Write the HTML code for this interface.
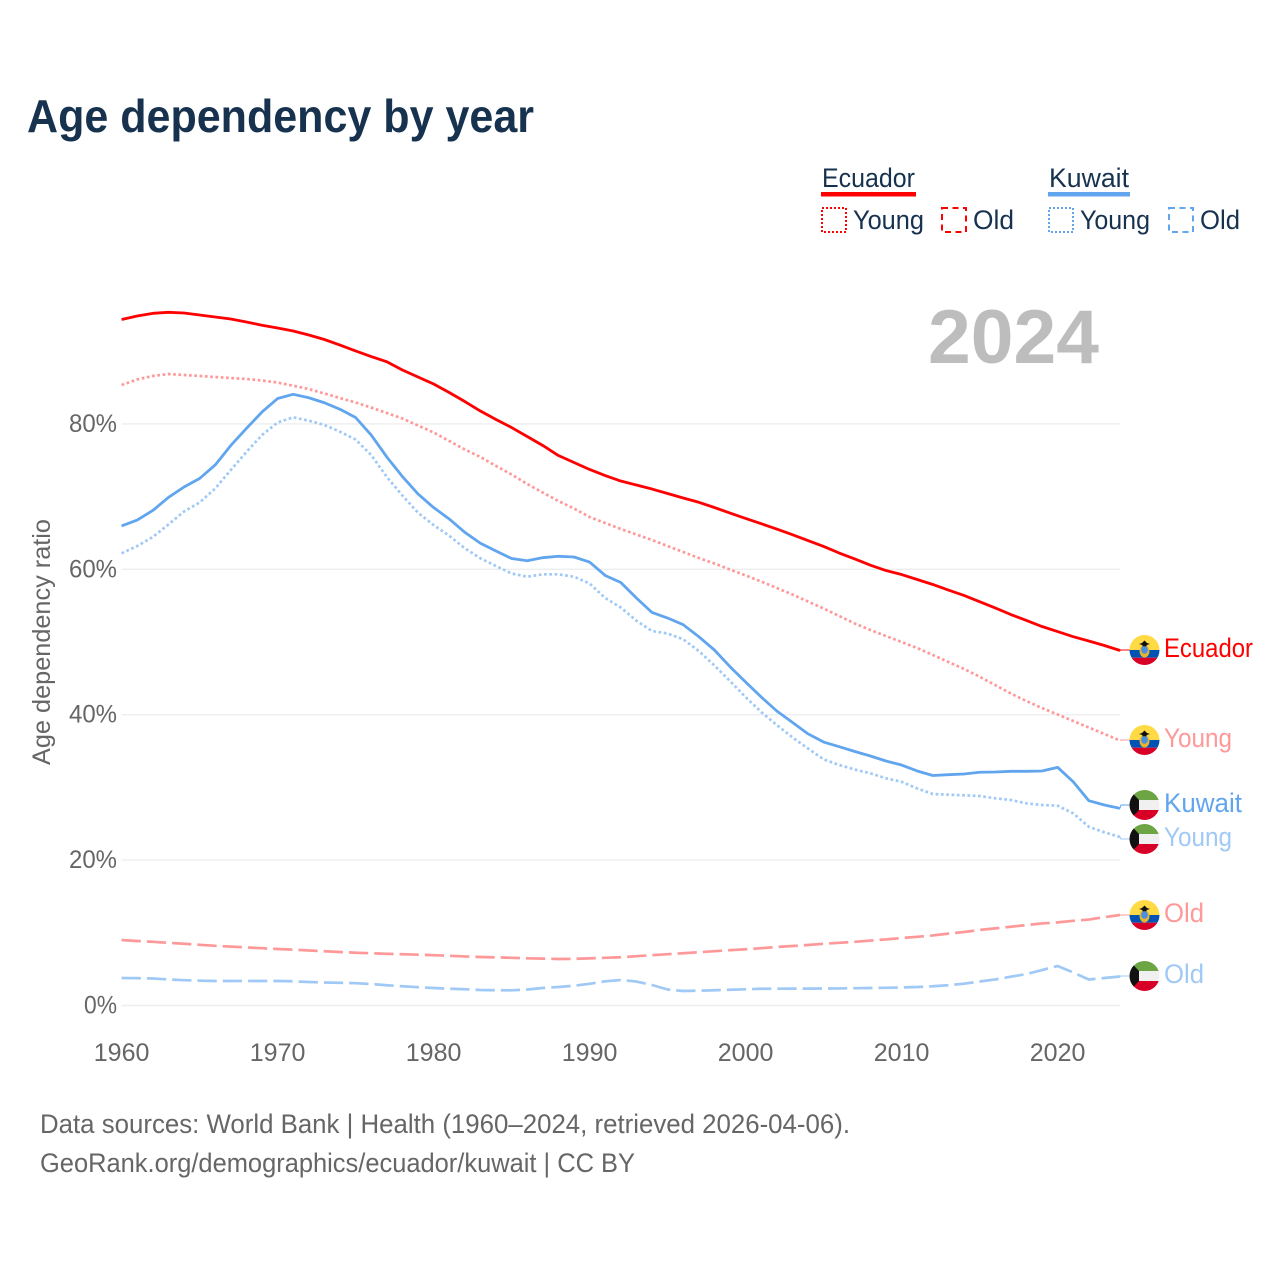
<!DOCTYPE html>
<html lang="en">
<head>
<meta charset="utf-8">
<title>Age dependency by year</title>
<style>
html,body{margin:0;padding:0;background:#fff;width:1280px;height:1280px;overflow:hidden}
svg{display:block}
text{font-family:"Liberation Sans",sans-serif}
</style>
</head>
<body>
<svg id="chart" xmlns="http://www.w3.org/2000/svg" width="1280" height="1280" viewBox="0 0 1280 1280">
  <defs>
    <clipPath id="flag-clip"><circle cx="0" cy="0" r="15"/></clipPath>
    <g id="flag-ecuador">
      <g clip-path="url(#flag-clip)">
        <rect x="-15" y="-15" width="30" height="15" fill="#ffda44"/>
        <rect x="-15" y="0" width="30" height="7.7" fill="#0052b4"/>
        <rect x="-15" y="7.7" width="30" height="7.3" fill="#d80027"/>
      </g>
      <ellipse cx="0" cy="1.2" rx="5" ry="6.3" fill="#e5b52e"/>
      <ellipse cx="0" cy="-0.2" rx="3.3" ry="4" fill="#4a8fe0"/>
      <path d="M-5.5-6 L-2.5-7 L0-9.5 L2.5-7 L5.5-6 L2.2-5 L2-3.8 L-2-3.8 L-2.2-5Z" fill="#111"/>
    </g>
    <g id="flag-kuwait">
      <g clip-path="url(#flag-clip)">
        <rect x="-15" y="-15" width="30" height="10" fill="#6da544"/>
        <rect x="-15" y="-5" width="30" height="10" fill="#f0f0f0"/>
        <rect x="-15" y="5" width="30" height="10" fill="#d80027"/>
        <path d="M-15-15 L-5.5-5 L-5.5 5 L-15 15Z" fill="#111"/>
      </g>
    </g>
  </defs>

  <text x="27" y="132" font-size="46" font-weight="700" fill="#17324f" textLength="507" lengthAdjust="spacingAndGlyphs">Age dependency by year</text>

  <g font-size="27" fill="#17324f">
    <text x="822" y="187" textLength="93" lengthAdjust="spacingAndGlyphs">Ecuador</text>
    <rect x="821" y="192" width="95" height="4.5" fill="#ff0000"/>
    <text x="1049" y="187" textLength="80" lengthAdjust="spacingAndGlyphs">Kuwait</text>
    <rect x="1048" y="192" width="82" height="4.5" fill="#60a5ee"/>

    <rect x="822" y="208" width="24" height="24" fill="none" stroke="#ff0000" stroke-width="2" stroke-dasharray="2 2"/>
    <text x="853" y="229" textLength="71" lengthAdjust="spacingAndGlyphs">Young</text>
    <rect x="942" y="208" width="24" height="24" fill="none" stroke="#ff0000" stroke-width="2" stroke-dasharray="6 4.5"/>
    <text x="973" y="229" textLength="41" lengthAdjust="spacingAndGlyphs">Old</text>

    <rect x="1049" y="208" width="24" height="24" fill="none" stroke="#60a5ee" stroke-width="2" stroke-dasharray="2 2"/>
    <text x="1080" y="229" textLength="70" lengthAdjust="spacingAndGlyphs">Young</text>
    <rect x="1169" y="208" width="24" height="24" fill="none" stroke="#60a5ee" stroke-width="2" stroke-dasharray="6 4.5"/>
    <text x="1200" y="229" textLength="40" lengthAdjust="spacingAndGlyphs">Old</text>
  </g>

  <text x="928" y="363" font-size="76" font-weight="700" fill="#bdbdbd" textLength="171" lengthAdjust="spacingAndGlyphs">2024</text>

  <text transform="translate(50 642) rotate(-90)" text-anchor="middle" font-size="25" fill="#666666" textLength="246" lengthAdjust="spacingAndGlyphs">Age dependency ratio</text>

  <g id="grid"></g>
  <g id="y-ticks"></g>
  <g id="x-ticks"></g>
  <g id="series"></g>
  <g id="end-labels"></g>

  <g font-size="27" fill="#666666">
    <text x="40" y="1133" textLength="810" lengthAdjust="spacingAndGlyphs">Data sources: World Bank | Health (1960–2024, retrieved 2026-04-06).</text>
    <text x="40" y="1172" textLength="595" lengthAdjust="spacingAndGlyphs">GeoRank.org/demographics/ecuador/kuwait | CC BY</text>
  </g>
</svg>

<script>
const firstYear = 1960;
const lastYear = 2024;
const xTicks = [1960, 1970, 1980, 1990, 2000, 2010, 2020];
const yTicks = [0, 20, 40, 60, 80];

const ecuadorTotal = [94.36,94.84,95.21,95.35,95.25,94.98,94.70,94.43,94.01,93.57,93.19,92.78,92.23,91.61,90.85,90.03,89.27,88.55,87.41,86.45,85.49,84.32,83.08,81.77,80.60,79.50,78.27,77.03,75.65,74.69,73.73,72.90,72.14,71.59,71.04,70.43,69.81,69.22,68.50,67.74,66.99,66.27,65.54,64.76,63.96,63.14,62.24,61.42,60.56,59.83,59.28,58.60,57.91,57.15,56.40,55.54,54.68,53.78,52.96,52.13,51.44,50.73,50.14,49.52,48.83];
const ecuadorYoung = [85.35,86.11,86.59,86.86,86.73,86.59,86.45,86.31,86.18,85.97,85.69,85.25,84.80,84.18,83.56,82.94,82.25,81.50,80.74,79.78,78.82,77.65,76.48,75.45,74.21,73.04,71.73,70.56,69.39,68.36,67.19,66.37,65.54,64.79,64.03,63.20,62.38,61.55,60.80,59.97,59.15,58.32,57.43,56.53,55.57,54.61,53.58,52.54,51.65,50.82,50.00,49.17,48.21,47.25,46.29,45.23,44.08,42.92,41.88,40.92,40.03,39.13,38.24,37.35,36.45];
const ecuadorOld = [9.01,8.87,8.76,8.62,8.49,8.35,8.21,8.10,7.99,7.88,7.77,7.68,7.57,7.46,7.36,7.26,7.18,7.11,7.06,6.99,6.92,6.84,6.75,6.67,6.62,6.56,6.49,6.45,6.40,6.42,6.48,6.56,6.64,6.78,6.92,7.06,7.19,7.33,7.47,7.61,7.74,7.88,8.05,8.18,8.32,8.49,8.62,8.76,8.93,9.09,9.28,9.45,9.64,9.89,10.11,10.39,10.61,10.83,11.07,11.29,11.43,11.65,11.82,12.15,12.45];
const kuwaitTotal = [65.96,66.78,68.09,69.88,71.32,72.49,74.35,77.03,79.37,81.64,83.49,84.07,83.60,82.91,82.01,80.88,78.47,75.45,72.76,70.36,68.50,66.92,65.09,63.58,62.52,61.48,61.18,61.60,61.79,61.69,61.00,59.15,58.18,56.05,54.06,53.30,52.38,50.73,48.90,46.60,44.50,42.43,40.51,38.95,37.37,36.24,35.60,34.94,34.32,33.63,33.08,32.26,31.64,31.75,31.84,32.08,32.12,32.21,32.21,32.26,32.76,30.78,28.17,27.58,27.12];
const kuwaitYoung = [62.20,63.20,64.44,66.16,67.95,69.19,71.11,73.66,76.13,78.47,80.19,80.91,80.44,79.85,78.93,77.85,75.72,72.70,70.15,67.78,66.09,64.62,62.89,61.51,60.45,59.42,58.98,59.31,59.31,58.98,58.05,56.05,54.74,52.93,51.51,51.17,50.37,48.76,46.77,44.63,42.43,40.37,38.58,36.89,35.35,33.86,33.08,32.46,31.94,31.25,30.77,29.85,29.09,29.00,28.91,28.82,28.50,28.27,27.81,27.58,27.48,26.44,24.59,23.82,23.18];
const kuwaitOld = [3.78,3.76,3.71,3.58,3.48,3.41,3.37,3.37,3.38,3.37,3.37,3.33,3.23,3.16,3.12,3.07,2.96,2.79,2.65,2.52,2.41,2.31,2.24,2.13,2.10,2.09,2.20,2.41,2.54,2.72,2.98,3.33,3.51,3.30,2.82,2.20,1.99,2.04,2.10,2.17,2.23,2.30,2.31,2.32,2.32,2.34,2.35,2.38,2.41,2.43,2.48,2.54,2.65,2.79,3.00,3.30,3.58,3.96,4.33,4.88,5.43,4.54,3.58,3.78,3.99];

const SVGNS = 'http://www.w3.org/2000/svg';
const RED = '#ff0000';
const BLUE = '#60a5ee';
const LIGHT_RED = '#ff9999';
const LIGHT_BLUE = '#a0c9f6';

function xScale(year) { return 121.6 + (year - firstYear) * (1120 - 121.6) / (lastYear - firstYear); }
function yScale(value) { return 1005.5 - value * 7.27; }

function make(tag, attrs, parent) {
  const el = document.createElementNS(SVGNS, tag);
  Object.keys(attrs).forEach(function (k) { el.setAttribute(k, attrs[k]); });
  parent.appendChild(el);
  return el;
}

const gridGroup = document.getElementById('grid');
const yTickGroup = document.getElementById('y-ticks');
const xTickGroup = document.getElementById('x-ticks');
const seriesGroup = document.getElementById('series');
const endGroup = document.getElementById('end-labels');

yTicks.forEach(function (tick) {
  const line = make('line', { x1: xScale(firstYear), x2: xScale(lastYear), y1: yScale(tick), y2: yScale(tick), stroke: '#eeeeee', 'stroke-width': 1.4 }, gridGroup);
  
  
  const label = make('text', { x: 117, y: yScale(tick) + 8, 'text-anchor': 'end', 'font-size': 25, fill: '#666666', textLength: tick === 0 ? 33 : 48, lengthAdjust: 'spacingAndGlyphs' }, yTickGroup);
  
  
  label.textContent = tick + '%';
});

xTicks.forEach(function (year) {
  const label = make('text', { x: xScale(year), y: 1061, 'text-anchor': 'middle', 'font-size': 25, fill: '#666666' }, xTickGroup);
  
  
  label.textContent = year;
});

function drawSeries(values, name, color, width, dash) {
  const d = values.map(function (v, i) {
    return (i ? 'L' : 'M') + xScale(firstYear + i).toFixed(2) + ' ' + yScale(v).toFixed(2);
  }).join(' ');
  const attrs = { d: d, fill: 'none', stroke: color, 'stroke-width': width, 'stroke-linejoin': 'round' };
  if (dash) { attrs['stroke-dasharray'] = dash; }
  const path = make('path', attrs, seriesGroup);
  
  
}

drawSeries(ecuadorOld, 'line-ecuador-old', LIGHT_RED, 2.7, '19.3 6');
drawSeries(kuwaitOld, 'line-kuwait-old', LIGHT_BLUE, 2.7, '19.3 6');
drawSeries(ecuadorYoung, 'line-ecuador-young', LIGHT_RED, 2.7, '2.7 2.6');
drawSeries(kuwaitYoung, 'line-kuwait-young', LIGHT_BLUE, 2.7, '2.7 2.6');
drawSeries(kuwaitTotal, 'line-kuwait-total', BLUE, 2.8, null);
drawSeries(ecuadorTotal, 'line-ecuador-total', RED, 2.8, null);

function drawEnd(values, text, name, flag, color, labelWidth, labelY) {
  const yEnd = yScale(values[values.length - 1]);
  const xEnd = xScale(lastYear);
  const leader = make('path', { d: 'M' + xEnd + ' ' + yEnd.toFixed(1) + ' L' + (xEnd + 1) + ' ' + labelY + ' L' + (xEnd + 10) + ' ' + labelY, fill: 'none', stroke: color, 'stroke-width': 1 }, endGroup);
  
  
  const icon = make('use', { href: '#flag-' + flag, x: 1144.5, y: labelY }, endGroup);
  
  
  const label = make('text', { x: 1164, y: labelY + 7, 'font-size': 27, fill: color, textLength: labelWidth, lengthAdjust: 'spacingAndGlyphs' }, endGroup);
  
  
  label.textContent = text;
}

drawEnd(ecuadorTotal, 'Ecuador', 'end-ecuador-total', 'ecuador', RED, 89, 650);
drawEnd(ecuadorYoung, 'Young', 'end-ecuador-young', 'ecuador', LIGHT_RED, 68, 740);
drawEnd(kuwaitTotal, 'Kuwait', 'end-kuwait-total', 'kuwait', BLUE, 78, 805);
drawEnd(kuwaitYoung, 'Young', 'end-kuwait-young', 'kuwait', LIGHT_BLUE, 68, 839);
drawEnd(ecuadorOld, 'Old', 'end-ecuador-old', 'ecuador', LIGHT_RED, 40, 915);
drawEnd(kuwaitOld, 'Old', 'end-kuwait-old', 'kuwait', LIGHT_BLUE, 40, 976);
</script>
</body>
</html>
